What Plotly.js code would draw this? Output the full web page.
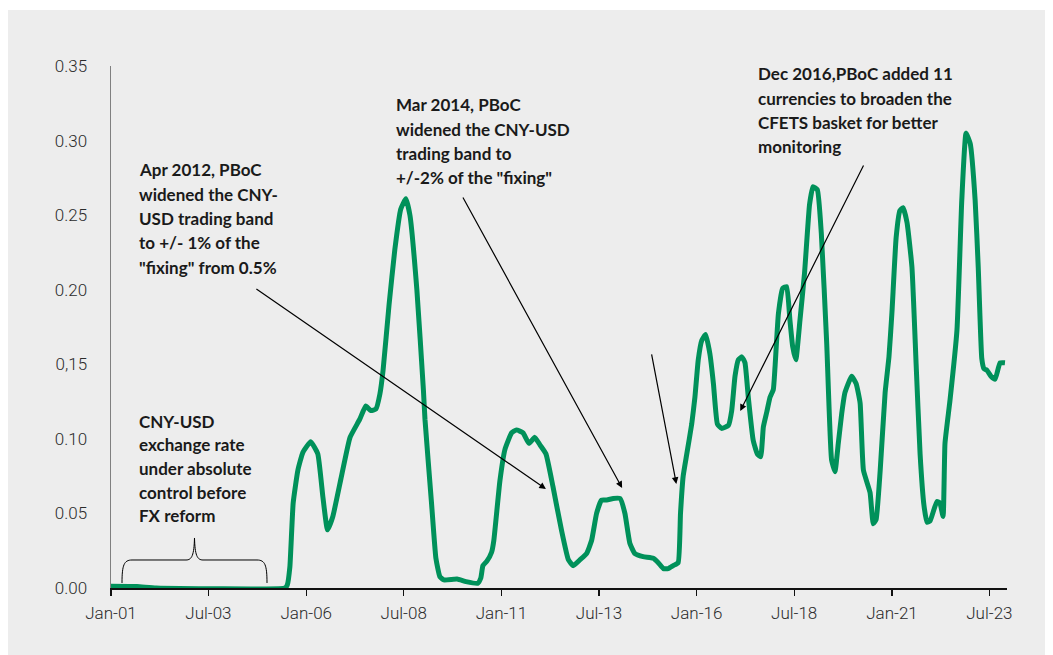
<!DOCTYPE html>
<html>
<head>
<meta charset="utf-8">
<script src="https://cdn.plot.ly/plotly-3.0.1.min.js"></script>
<style>
  html, body { margin: 0; padding: 0; background: #ffffff; }
  #chart { position: absolute; left: 8px; top: 10px; width: 1037px; height: 645px; }
</style>
</head>
<body>
<div id="chart"></div>
<script>
// ---- data ----
const dates = [
  '2001-01-01','2001-09-01','2002-03-01','2005-06-15','2005-07-08','2005-08-01','2005-09-01','2005-10-15',
  '2005-12-01','2006-02-12','2006-04-19','2006-06-06','2006-07-19','2006-09-07','2006-11-27','2007-02-15',
  '2007-05-16','2007-07-12','2007-08-28','2007-10-15','2007-11-21','2007-12-21','2008-02-15','2008-04-09',
  '2008-06-03','2008-07-21','2008-08-28','2008-11-01','2009-01-01','2009-01-16','2009-03-18','2009-04-28',
  '2009-06-04','2009-07-12','2009-11-12','2010-02-04','2010-05-25','2010-06-22','2010-07-12','2010-08-18',
  '2010-10-01','2010-10-22','2010-12-18','2011-02-03','2011-04-06','2011-05-21','2011-07-22','2011-09-15',
  '2011-11-09','2011-12-27','2012-02-21','2012-04-27','2012-07-15','2012-09-18','2012-11-03','2013-01-06',
  '2013-03-07','2013-04-24','2013-06-09','2013-07-25','2013-09-12','2013-11-12','2014-01-15','2014-03-01',
  '2014-04-16','2014-06-03','2014-08-19','2014-11-21','2015-01-07','2015-02-24','2015-04-10','2015-05-27',
  '2015-07-12','2015-08-03','2015-08-28','2015-10-01','2015-11-16','2015-12-16','2016-01-16','2016-02-18',
  '2016-03-25','2016-05-04','2016-06-06','2016-07-13','2016-08-22','2016-10-24','2016-11-24','2016-12-25',
  '2017-01-25','2017-02-27','2017-03-28','2017-04-28','2017-06-13','2017-07-21','2017-08-22','2017-09-16',
  '2017-10-18','2017-11-18','2017-12-18','2018-01-03','2018-02-04','2018-03-16','2018-04-22','2018-05-22',
  '2018-06-17','2018-07-17','2018-08-25','2018-10-06','2018-11-22','2018-12-24','2019-02-03','2019-03-12',
  '2019-05-01','2019-06-16','2019-07-18','2019-08-18','2019-09-19','2019-10-19','2019-12-21','2020-02-01',
  '2020-03-09','2020-04-09','2020-06-10','2020-07-10','2020-08-06','2020-09-13','2020-10-29','2020-12-04',
  '2021-01-01','2021-02-09','2021-03-16','2021-04-15','2021-05-22','2021-07-07','2021-08-15','2021-09-21',
  '2021-10-28','2021-11-25','2021-12-24','2022-02-25','2022-03-25','2022-04-24','2022-05-12','2022-06-28',
  '2022-09-01','2022-10-16','2022-11-25','2023-01-03','2023-02-18','2023-03-19','2023-04-21','2023-05-12',
  '2023-06-09','2023-07-16','2023-08-24','2023-10-09','2023-11-24'
];
const cnyUsdVol = [
  0.0012,0.0010,0.0000,0.0000,0.002,0.014,0.057,0.079,
  0.091,0.098,0.090,0.061,0.039,0.048,0.075,0.101,
  0.113,0.122,0.119,0.120,0.130,0.146,0.190,0.227,
  0.254,0.261,0.250,0.200,0.133,0.113,0.057,0.020,
  0.0076,0.0054,0.006,0.0043,0.0032,0.0067,0.015,0.018,
  0.024,0.032,0.072,0.093,0.104,0.106,0.104,0.097,
  0.101,0.096,0.090,0.068,0.039,0.019,0.015,0.019,
  0.023,0.032,0.050,0.059,0.059,0.060,0.060,0.050,
  0.030,0.023,0.021,0.020,0.017,0.013,0.013,0.015,
  0.017,0.050,0.075,0.090,0.110,0.128,0.153,0.166,
  0.170,0.157,0.137,0.110,0.107,0.109,0.119,0.142,
  0.153,0.155,0.151,0.128,0.099,0.090,0.088,0.108,
  0.118,0.128,0.133,0.148,0.184,0.201,0.202,0.180,
  0.162,0.153,0.180,0.211,0.257,0.269,0.267,0.238,
  0.165,0.086,0.078,0.097,0.117,0.131,0.142,0.137,
  0.124,0.079,0.064,0.043,0.046,0.079,0.131,0.155,
  0.185,0.235,0.253,0.255,0.245,0.215,0.150,0.090,
  0.055,0.044,0.045,0.058,0.057,0.048,0.097,0.126,
  0.173,0.260,0.305,0.298,0.260,0.215,0.154,0.147,
  0.146,0.142,0.140,0.151,0.151
];
const xTickVals = ['2001-01-01','2003-07-01','2006-01-01','2008-07-01','2011-01-01','2013-07-01','2016-01-01','2018-07-01','2021-01-01','2023-07-01'];
const xTickText = ['Jan-01','Jul-03','Jan-06','Jul-08','Jan-11','Jul-13','Jan-16','Jul-18','Jan-21','Jul-23'];
const yTickVals = [0, 0.05, 0.10, 0.15, 0.20, 0.25, 0.30, 0.35];
const yTickText = ['0.00','0.05','0.10','0,15','0.20','0.25','0.30','0.35'];

const noteApr2012 = ['Apr 2012, PBoC','widened the CNY-','USD trading band','to +/- 1% of the','"fixing" from 0.5%'];
const noteMar2014 = ['Mar 2014, PBoC','widened the CNY-USD','trading band to','+/-2% of the "fixing"'];
const noteFx = ['CNY-USD','exchange rate','under absolute','control before','FX reform'];
const noteDec2016 = ['Dec 2016,PBoC added 11','currencies to broaden the','CFETS basket for better','monitoring'];

// ---- layout helpers ----
const BG = '#ededed';
const noteFont = {family: 'Lato, "Open Sans", sans-serif', size: 17, color: '#1a1a1a', weight: 700};
function textBlock(lines, x, yTop, step) {
  return lines.map((t, i) => ({
    xref: 'paper', yref: 'paper', x: x, y: yTop - i * step,
    xanchor: 'left', yanchor: 'middle', align: 'left',
    text: t, showarrow: false, font: noteFont
  }));
}
function arrow(x, y, ax, ay) {
  return {x: x, y: y, xref: 'x', yref: 'y', ax: ax, ay: ay, text: '', showarrow: true,
          arrowhead: 2, arrowsize: 1.1, arrowwidth: 1.2, arrowcolor: '#000', standoff: 0};
}
const STEP = 24.3 / 522;
const annotations = [].concat(
  textBlock(noteApr2012, 0.0290, 0.8008, STEP),
  textBlock(noteMar2014, 0.3158, 0.9253, STEP),
  textBlock(noteFx, 0.0290, 0.3199, 23.7 / 522),
  textBlock(noteDec2016, 0.7198, 0.9847, 24.1 / 522),
  [
    arrow('2012-02-21', 0.0664, -291, -201),
    arrow('2014-02-03', 0.0671, -160, -292),
    arrow('2015-06-25', 0.0698, -25, -131),
    arrow('2017-02-12', 0.1187, 124, -247)
  ]
);

const trace = {
  x: dates, y: cnyUsdVol, type: 'scatter', mode: 'lines',
  line: {color: '#00915a', width: 5, shape: 'spline', smoothing: 0.4},
  hoverinfo: 'x+y'
};

const tickFont = {family: 'Roboto, sans-serif', size: 17, color: '#2b2b2b', weight: 300};
const layout = {
  width: 1037, height: 645,
  margin: {l: 103, r: 38, t: 56, b: 67},
  paper_bgcolor: BG, plot_bgcolor: BG,
  showlegend: false,
  font: {family: 'Roboto, sans-serif', color: '#333'},
  xaxis: {
    type: 'date', range: ['2001-01-01', '2023-12-13'],
    tickvals: xTickVals, ticktext: xTickText,
    showgrid: false, zeroline: false,
    showline: true, linecolor: '#111', linewidth: 1.5,
    ticks: 'outside', ticklen: 6, tickwidth: 1.2, tickcolor: '#111',
    ticklabelstandoff: 3,
    tickfont: tickFont
  },
  yaxis: {
    range: [0, 0.35], tickvals: yTickVals, ticktext: yTickText,
    showgrid: false, zeroline: false,
    showline: true, linecolor: '#808080', linewidth: 1.5,
    ticks: '', ticklabelstandoff: 19,
    tickfont: tickFont
  },
  annotations: annotations,
  shapes: [{
    type: 'path', xref: 'paper', yref: 'paper',
    path: 'M 0.01228 0.00958 C 0.01228 0.04406 0.01451 0.05364 0.02344 0.05364 L 0.08371 0.05364 ' +
          'C 0.0904 0.05364 0.09263 0.06322 0.09319 0.09579 C 0.09375 0.06322 0.09598 0.05364 0.10268 0.05364 ' +
          'L 0.16295 0.05364 C 0.17188 0.05364 0.17411 0.04406 0.17411 0.00958',
    line: {color: '#000', width: 1}
  }]
};

Plotly.newPlot('chart', [trace], layout, {displayModeBar: false, staticPlot: true});
</script>
</body>
</html>
